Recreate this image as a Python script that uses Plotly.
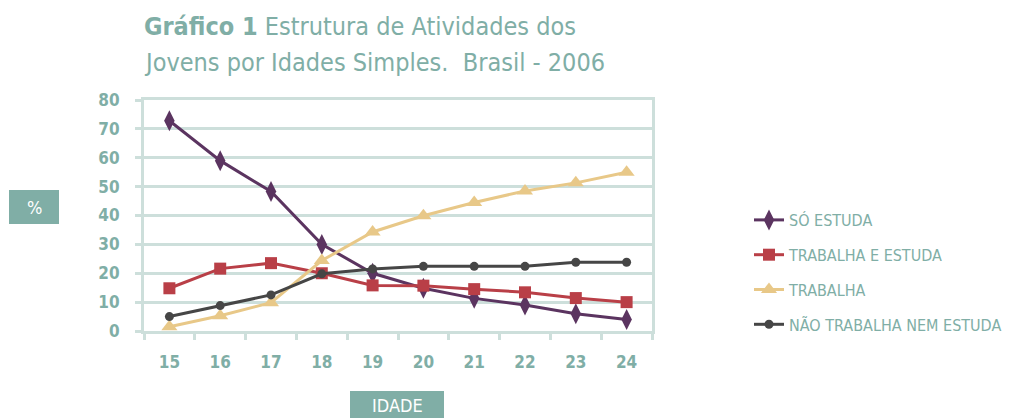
import plotly.graph_objects as go

# idade (anos)
idades = [15, 16, 17, 18, 19, 20, 21, 22, 23, 24]

# % dos jovens por tipo de atividade
so_estuda = [72.8, 59.0, 48.3, 30.0, 20.0, 14.8, 11.3, 9.0, 6.0, 4.0]
trabalha_estuda = [14.8, 21.6, 23.5, 20.0, 15.8, 15.7, 14.5, 13.4, 11.4, 10.0]
trabalha = [1.5, 5.3, 9.8, 24.4, 34.3, 39.9, 44.5, 48.5, 51.3, 55.0]
nem_nem = [5.0, 8.8, 12.5, 19.8, 21.5, 22.4, 22.4, 22.4, 23.8, 23.8]

series_names = ["SÓ ESTUDA", "TRABALHA E ESTUDA", "TRABALHA", "NÃO TRABALHA NEM ESTUDA"]
y_ticks = [0, 10, 20, 30, 40, 50, 60, 70, 80]

TEAL = "#80aea6"
GRID = "#cddfdb"
FONT = "Liberation Sans Narrow, DejaVu Sans Condensed, Open Sans, sans-serif"

# page body adds 8px margin, so the figure is 8px smaller than the window
W, H = 1009, 410
L, R, T, B = 136, 644, 92, 323   # plot area in figure pixels


def px(x):
    return (x - L) / (R - L)


def py(y):
    return (B - y) / (B - T)


styles = [
    ("#5b3460", "diamond-tall", 15),
    ("#b93f47", "square", 12),
    ("#e8c888", "triangle-up", 14),
    ("#464646", "circle", 9),
]

fig = go.Figure()
for i, (name, vals) in enumerate(zip(series_names, [so_estuda, trabalha_estuda, trabalha, nem_nem])):
    color, symbol, size = styles[i]
    fig.add_trace(go.Scatter(
        x=idades, y=vals, name=name, mode="lines+markers",
        line=dict(color=color, width=3),
        marker=dict(color=color, symbol=symbol, size=size),
        cliponaxis=False, legendgroup=name,
    ))

fig.update_layout(
    width=W, height=H,
    margin=dict(l=L, r=W - R, t=T, b=H - B, autoexpand=False),
    plot_bgcolor="white", paper_bgcolor="white",
    font=dict(family=FONT, color=TEAL),
    legend=dict(
        x=px(741), xanchor="left",
        y=py(195), yanchor="top",
        font=dict(size=16, color=TEAL, family=FONT),
        tracegroupgap=11, bgcolor="rgba(0,0,0,0)",
    ),
    showlegend=True,
)

# título em duas linhas
fig.add_annotation(text="<b>Gráfico 1</b> Estrutura de Atividades dos",
                   xref="paper", yref="paper", x=px(134), y=py(19),
                   xanchor="left", yanchor="middle", showarrow=False,
                   font=dict(size=25, color=TEAL, family=FONT))
fig.add_annotation(text="Jovens por Idades Simples.  Brasil - 2006",
                   xref="paper", yref="paper", x=px(134), y=py(55),
                   xanchor="left", yanchor="middle", showarrow=False,
                   font=dict(size=25, color=TEAL, family=FONT))

fig.update_xaxes(
    range=[14.5, 24.5], tickmode="array", tickvals=idades,
    ticks="", showgrid=False, zeroline=False,
    showline=True, linecolor=GRID, linewidth=3, mirror=True,
    tickfont=dict(size=17, color=TEAL, family=FONT, weight="bold"),
    ticklabelstandoff=14,
    minor=dict(tickvals=[v - 0.5 for v in idades] + [24.5], ticks="outside",
               ticklen=6, tickwidth=3, tickcolor=GRID),
)
fig.update_yaxes(
    range=[0, 80], tickmode="array", tickvals=y_ticks, ticksuffix="  -",
    showgrid=True, gridcolor=GRID, gridwidth=3, zeroline=False,
    showline=True, linecolor=GRID, linewidth=3, mirror=True,
    ticks="outside", ticklen=6, tickwidth=3, tickcolor=GRID,
    tickfont=dict(size=17, color=TEAL, family=FONT, weight="bold"),
    ticklabelstandoff=12,
)

# caixas dos títulos dos eixos
fig.add_shape(type="rect", xref="paper", yref="paper",
              x0=px(1), x1=px(51), y0=py(216), y1=py(182),
              fillcolor=TEAL, line=dict(width=0))
fig.add_annotation(text="%", xref="paper", yref="paper",
                   x=px(26), y=py(199), xanchor="center", yanchor="middle",
                   showarrow=False,
                   font=dict(size=18, color="white", family=FONT))
fig.add_shape(type="rect", xref="paper", yref="paper",
              x0=px(342), x1=px(436), y0=py(420), y1=py(383),
              fillcolor=TEAL, line=dict(width=0))
fig.add_annotation(text="IDADE", xref="paper", yref="paper",
                   x=px(389), y=py(397), xanchor="center", yanchor="middle",
                   showarrow=False,
                   font=dict(size=18, color="white", family=FONT))

fig.write_html("out.html")
